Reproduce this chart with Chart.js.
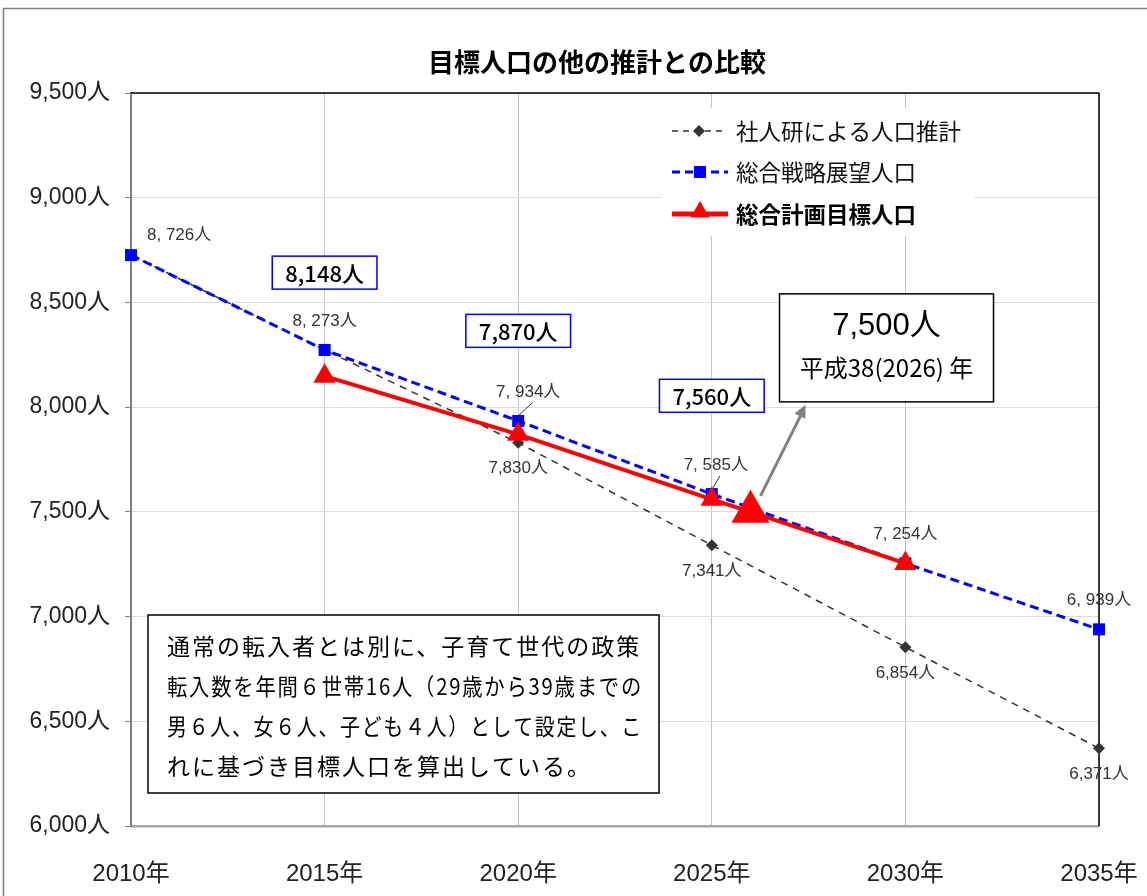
<!DOCTYPE html>
<html lang="ja">
<head>
<meta charset="utf-8">
<title>目標人口の他の推計との比較</title>
<script src="https://cdn.jsdelivr.net/npm/chart.js@4.4.1/dist/chart.umd.min.js"></script>
<style>
  body { margin: 0; background: #fff; }
  #canvas { display: block; }
</style>
</head>
<body>
<canvas id="canvas" width="1147" height="896"></canvas>
<script>
const TITLE = "目標人口の他の推計との比較";
const YEARS = [2010, 2015, 2020, 2025, 2030, 2035];
const SHAJINKEN = [8726, 8273, 7830, 7341, 6854, 6371];
const SENRYAKU = [8726, 8273, 7934, 7585, 7254, 6939];
const KEIKAKU_YEARS = [2015, 2020, 2025, 2026, 2030];
const KEIKAKU = [8148, 7870, 7560, 7500, 7254];
const SERIES_NAMES = ["社人研による人口推計", "総合戦略展望人口", "総合計画目標人口"];
const TARGET_YEAR = 2026;
const TARGET_LINES = ["7,500人", "平成38(2026) 年"];
const NOTE_LINES = [
  "通常の転入者とは別に、子育て世代の政策",
  "転入数を年間６世帯16人（29歳から39歳までの",
  "男６人、女６人、子ども４人）として設定し、こ",
  "れに基づき目標人口を算出している。",
];
const Y_MIN = 6000;
const Y_MAX = 9500;
const Y_STEP = 500;

const BLACK = "#333333";
const BLUE = "#0000ff";
const RED = "#ff0000";
const JP = "'Noto Sans CJK JP', sans-serif";
const LAT = "'Liberation Sans', 'Noto Sans CJK JP', sans-serif";

const fmt = (v) => v.toLocaleString("en-US");
const fmtSpaced = (v) => fmt(v).replace(",", ", ");

const pts = (xs, ys) => xs.map((x, i) => ({ x: x, y: ys[i] }));

// small helpers for the custom legend / labels
const diamond = (ctx, x, y, r) => {
  ctx.beginPath();
  ctx.moveTo(x, y - r);
  ctx.lineTo(x + r, y);
  ctx.lineTo(x, y + r);
  ctx.lineTo(x - r, y);
  ctx.closePath();
  ctx.fill();
};
const triangle = (ctx, x, y, r) => {
  ctx.beginPath();
  ctx.moveTo(x, y - r);
  ctx.lineTo(x + r * 0.866, y + r * 0.5);
  ctx.lineTo(x - r * 0.866, y + r * 0.5);
  ctx.closePath();
  ctx.fill();
};

const decorations = {
  id: "decorations",
  beforeDraw(chart) {
    const ctx = chart.ctx;
    ctx.save();
    ctx.fillStyle = "#fff";
    ctx.fillRect(0, 0, chart.width, chart.height);
    ctx.strokeStyle = "#7f7f7f";
    ctx.lineWidth = 1.5;
    ctx.strokeRect(3.5, 8.5, chart.width + 20, chart.height + 20);
    ctx.restore();
  },
  beforeDatasetsDraw(chart) {
    const ctx = chart.ctx;
    const a = chart.chartArea;
    ctx.save();
    ctx.strokeStyle = "#000";
    ctx.lineWidth = 1.5;
    ctx.beginPath();
    ctx.moveTo(a.left, a.top);
    ctx.lineTo(a.right, a.top);
    ctx.lineTo(a.right, a.bottom);
    ctx.stroke();

    // legend box (hides the grid behind it)
    const lx = 662, ly = 108;
    ctx.fillStyle = "#fff";
    ctx.fillRect(lx, ly, 312, 128);
    ctx.textBaseline = "middle";
    ctx.textAlign = "left";

    ctx.strokeStyle = BLACK;
    ctx.lineWidth = 1.5;
    ctx.setLineDash([6, 5]);
    ctx.beginPath(); ctx.moveTo(672, 131); ctx.lineTo(726, 131); ctx.stroke();
    ctx.fillStyle = BLACK;
    diamond(ctx, 699, 131, 6);
    ctx.setLineDash([]);
    ctx.fillStyle = "#111";
    ctx.font = "22.5px " + JP;
    ctx.fillText(SERIES_NAMES[0], 736, 131);

    ctx.strokeStyle = BLUE;
    ctx.lineWidth = 3;
    ctx.setLineDash([8, 5]);
    ctx.beginPath(); ctx.moveTo(672, 172); ctx.lineTo(728, 172); ctx.stroke();
    ctx.setLineDash([]);
    ctx.fillStyle = BLUE;
    ctx.fillRect(694, 166, 12, 12);
    ctx.fillStyle = "#111";
    ctx.fillText(SERIES_NAMES[1], 736, 172);

    ctx.strokeStyle = RED;
    ctx.lineWidth = 5;
    ctx.beginPath(); ctx.moveTo(672, 214); ctx.lineTo(728, 214); ctx.stroke();
    ctx.fillStyle = RED;
    triangle(ctx, 700, 212, 11);
    ctx.fillStyle = "#000";
    ctx.font = "bold 22.5px " + JP;
    ctx.fillText(SERIES_NAMES[2], 736, 214);
    ctx.restore();
  },
  afterDraw(chart) {
    const ctx = chart.ctx;
    const a = chart.chartArea;
    const xs = chart.scales.x;
    const ys = chart.scales.y;
    ctx.save();

    // title
    ctx.fillStyle = "#000";
    ctx.font = "bold 26px " + JP;
    ctx.textAlign = "center";
    ctx.textBaseline = "middle";
    ctx.fillText(TITLE, 597, 62);

    // 総合戦略展望人口 labels (above)
    ctx.font = "17px " + LAT;
    ctx.fillStyle = "#333";
    YEARS.forEach((yr, i) => {
      const px = xs.getPixelForValue(yr);
      const py = ys.getPixelForValue(SENRYAKU[i]);
      if (i === 0) {
        ctx.textAlign = "left";
        ctx.fillText(fmtSpaced(SENRYAKU[i]) + "人", px + 16, py - 20);
      } else {
        ctx.textAlign = "center";
        const dx = (i === 2) ? 10 : (i === 3 ? 4 : 0);
        ctx.fillText(fmtSpaced(SENRYAKU[i]) + "人", px + dx, py - 29);
        if (i === 2 || i === 3) {
          ctx.strokeStyle = "#333";
          ctx.lineWidth = 1;
          ctx.beginPath();
          ctx.moveTo(px + dx + 4, py - 18);
          ctx.lineTo(px + 1, py - 6);
          ctx.stroke();
        }
      }
    });

    // 社人研 labels (below), only where the lines split
    ctx.textAlign = "center";
    YEARS.forEach((yr, i) => {
      if (i < 2) return;
      const px = xs.getPixelForValue(yr);
      const py = ys.getPixelForValue(SHAJINKEN[i]);
      ctx.fillText(fmt(SHAJINKEN[i]) + "人", px, py + 26);
    });

    // 総合計画目標人口 boxed labels
    ctx.font = "500 22px " + JP;
    KEIKAKU_YEARS.forEach((yr, i) => {
      if (yr === TARGET_YEAR || i === KEIKAKU_YEARS.length - 1) return;
      const px = xs.getPixelForValue(yr);
      const py = ys.getPixelForValue(KEIKAKU[i]);
      const txt = fmt(KEIKAKU[i]) + "人";
      const w = ctx.measureText(txt).width + 26;
      const cy = py - 104;
      ctx.fillStyle = "#fff";
      ctx.fillRect(px - w / 2, cy - 16, w, 33);
      ctx.strokeStyle = BLUE;
      ctx.lineWidth = 1.5;
      ctx.strokeRect(px - w / 2, cy - 16, w, 33);
      ctx.fillStyle = "#000";
      ctx.fillText(txt, px, cy + 1);
    });

    // target callout
    const ti = KEIKAKU_YEARS.indexOf(TARGET_YEAR);
    const tx = xs.getPixelForValue(TARGET_YEAR);
    const ty = ys.getPixelForValue(KEIKAKU[ti]);
    const ax0 = tx + 10, ay0 = ty - 16, ax1 = tx + 55, ay1 = ty - 107;
    ctx.strokeStyle = "#808080";
    ctx.fillStyle = "#808080";
    ctx.lineWidth = 3;
    ctx.beginPath(); ctx.moveTo(ax0, ay0); ctx.lineTo(ax1 - 4, ay1 + 9); ctx.stroke();
    const ang = Math.atan2(ay1 - ay0, ax1 - ax0);
    ctx.beginPath();
    ctx.moveTo(ax1, ay1);
    ctx.lineTo(ax1 - 14 * Math.cos(ang - 0.45), ay1 - 14 * Math.sin(ang - 0.45));
    ctx.lineTo(ax1 - 14 * Math.cos(ang + 0.45), ay1 - 14 * Math.sin(ang + 0.45));
    ctx.closePath();
    ctx.fill();

    const bx = tx + 29, by = ty - 218;
    ctx.fillStyle = "#fff";
    ctx.fillRect(bx, by, 214, 108);
    ctx.strokeStyle = "#000";
    ctx.lineWidth = 1.5;
    ctx.strokeRect(bx, by, 214, 108);
    ctx.fillStyle = "#000";
    ctx.font = "31px " + LAT;
    ctx.fillText(TARGET_LINES[0], bx + 107, by + 33);
    ctx.font = "24px " + JP;
    ctx.fillText(TARGET_LINES[1], bx + 107, by + 74, 176);

    // note box
    const nx = a.left + 17, ny = 615;
    ctx.fillStyle = "#fff";
    ctx.fillRect(nx, ny, 511, 178);
    ctx.strokeStyle = "#000";
    ctx.lineWidth = 1.5;
    ctx.strokeRect(nx, ny, 511, 178);
    ctx.fillStyle = "#000";
    ctx.font = "23px " + JP;
    ctx.letterSpacing = "2px";
    ctx.textAlign = "left";
    NOTE_LINES.forEach((line, i) => {
      ctx.fillText(line, nx + 19, ny + 31 + i * 40, 476);
    });
    ctx.letterSpacing = "0px";

    ctx.restore();
  },
};

Chart.defaults.font.family = LAT;

new Chart(document.getElementById("canvas"), {
  type: "line",
  data: {
    datasets: [
      {
        label: SERIES_NAMES[2],
        data: pts(KEIKAKU_YEARS, KEIKAKU),
        borderColor: RED,
        backgroundColor: RED,
        borderWidth: 4,
        pointStyle: "triangle",
        pointRadius: KEIKAKU_YEARS.map((yr) => (yr === TARGET_YEAR ? 22 : 13)),
        pointBorderWidth: 0,
        clip: false,
        order: 1,
      },
      {
        label: SERIES_NAMES[1],
        data: pts(YEARS, SENRYAKU),
        borderColor: BLUE,
        backgroundColor: BLUE,
        borderWidth: 3,
        borderDash: [9, 5],
        pointStyle: "rect",
        pointRadius: 8.5,
        pointBorderWidth: 0,
        clip: false,
        order: 2,
      },
      {
        label: SERIES_NAMES[0],
        data: pts(YEARS, SHAJINKEN),
        borderColor: BLACK,
        backgroundColor: BLACK,
        borderWidth: 1.5,
        borderDash: [7, 6],
        pointStyle: "rectRot",
        pointRadius: 6,
        pointBorderWidth: 0,
        clip: false,
        order: 3,
      },
    ],
  },
  options: {
    responsive: false,
    animation: false,
    devicePixelRatio: 1,
    layout: { padding: { top: 93, right: 48, left: 0, bottom: 0 } },
    plugins: {
      legend: { display: false },
      title: { display: false },
      tooltip: { enabled: false },
    },
    scales: {
      x: {
        type: "linear",
        min: 2010,
        max: 2035,
        ticks: {
          stepSize: 5,
          callback: (v) => v + "年",
          font: { size: 24 },
          color: "#222",
          padding: 34,
        },
        grid: { color: "#c4c4c4", drawTicks: false },
        border: { color: "#a6a6a6", width: 2.5 },
        afterFit: (s) => {
          s.height = 70;
          s.paddingLeft = 0;
          s.paddingRight = 0;
        },
      },
      y: {
        min: Y_MIN,
        max: Y_MAX,
        ticks: {
          stepSize: Y_STEP,
          callback: (v) => fmt(v) + "人",
          font: { size: 23 },
          color: "#222",
          padding: 15,
        },
        grid: { color: "#dcdcdc", tickLength: 6, tickColor: "#808080" },
        border: { color: "#808080", width: 2 },
        afterFit: (s) => {
          s.width = 131;
          s.paddingTop = 0;
          s.paddingBottom = 0;
        },
      },
    },
  },
  plugins: [decorations],
});
</script>
</body>
</html>
